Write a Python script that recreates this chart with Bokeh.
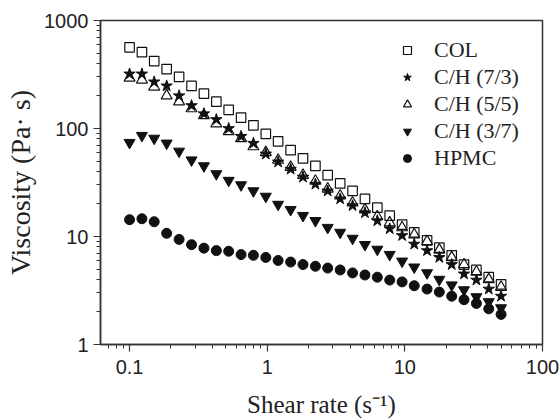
from bokeh.plotting import figure
from bokeh.models import Legend, LegendItem, CustomJSTickFormatter, Range1d
from bokeh.embed import file_html
from bokeh.resources import INLINE

# Shear rate (s^-1)
shear_rate = [0.1, 0.123, 0.151, 0.186, 0.229, 0.282, 0.347, 0.427, 0.525, 0.646,
              0.794, 0.977, 1.2, 1.48, 1.82, 2.24, 2.75, 3.39, 4.17, 5.13,
              6.31, 7.76, 9.55, 11.7, 14.5, 17.8, 21.9, 26.9, 33.1, 40.7, 50.0]

col = [565, 509, 421, 355, 300, 248, 210, 177, 149, 126,
       107, 89, 76, 63, 53, 45, 37, 31, 26.4, 22.3,
       18.5, 15.6, 12.9, 10.9, 9.2, 7.9, 6.7, 5.5, 4.9, 4.2, 3.6]
ch73 = [320, 320, 270, 248, 201, 163, 137, 121, 100, 84.5,
        73, 58, 49, 42, 35.5, 30.5, 26.4, 22.3, 19.3, 16.6,
        14, 11.8, 10.2, 8.5, 7.4, 6.4, 5.5, 4.5, 3.95, 3.26, 2.8]
ch55 = [294, 282, 243, 201, 177, 153, 132, 111, 94, 81,
        68, 60, 51, 43.9, 37, 32.6, 27.6, 23.8, 20.5, 17.7,
        15.3, 13.4, 12.1, 10.4, 9.0, 7.5, 6.4, 5.5, 4.7, 4.0, 3.4]
ch37 = [74, 86, 81, 73, 61.5, 51, 45, 38, 33, 30,
        26.4, 23.5, 19.8, 17.7, 15.6, 14, 12.1, 10.9, 9.6, 8.4,
        7.6, 6.8, 5.9, 5.2, 4.6, 4.0, 3.55, 3.2, 2.76, 2.48, 2.18]
hpmc = [14.3, 14.6, 13.7, 10.7, 9.4, 8.4, 7.8, 7.4, 7.3, 6.8,
        6.7, 6.4, 6.0, 5.8, 5.5, 5.3, 5.1, 4.9, 4.6, 4.4,
        4.2, 3.95, 3.8, 3.5, 3.26, 3.06, 2.8, 2.6, 2.4, 2.14, 1.9]

labels = ["COL", "C/H (7/3)", "C/H (5/5)", "C/H (3/7)", "HPMC"]

p = figure(width=560, height=420, x_axis_type="log", y_axis_type="log",
           x_range=Range1d(0.0615, 100), y_range=Range1d(1, 1000),
           output_backend="svg", toolbar_location=None,
           min_border_left=100, min_border_right=18, min_border_top=20,
           min_border_bottom=72)

p.xgrid.visible = False
p.ygrid.visible = False
p.outline_line_color = "#333333"
p.outline_line_width = 1.5

ink = "#111111"
r1 = p.scatter(shear_rate, col, marker="square", size=9.5, fill_color=None,
               line_color=ink, line_width=1.2)
r2 = p.scatter(shear_rate, ch73, marker="star", size=12, fill_color=ink,
               line_color=ink)
r3 = p.scatter(shear_rate, ch55, marker="triangle", size=11, fill_color=None,
               line_color=ink, line_width=1.2)
r4 = p.scatter(shear_rate, ch37, marker="inverted_triangle", size=11,
               fill_color=ink, line_color=ink)
r5 = p.scatter(shear_rate, hpmc, marker="circle", size=10, fill_color=ink,
               line_color=ink)

fmt = "return String(parseFloat(tick.toPrecision(4)));"
for ax in (p.xaxis[0], p.yaxis[0]):
    ax.axis_line_width = 1.5
    ax.axis_line_color = "#333333"
    ax.major_tick_in = 0
    ax.major_tick_out = 7
    ax.minor_tick_in = 0
    ax.minor_tick_out = 4
    ax.major_tick_line_width = 1.2
    ax.major_tick_line_color = "#333333"
    ax.minor_tick_line_color = "#333333"
    ax.major_label_text_font = "Liberation Sans"
    ax.major_label_text_font_size = "20px"
    ax.major_label_text_color = "#222222"
    ax.axis_label_text_font = "Liberation Serif"
    ax.axis_label_text_font_style = "normal"
    ax.axis_label_text_color = "#222222"
    ax.formatter = CustomJSTickFormatter(code=fmt)

p.xaxis.axis_label = "Shear rate (s\u207b\u00b9)"
p.yaxis.axis_label = "Viscosity (Pa\u00b7 s)"
p.xaxis.major_label_standoff = 8
p.yaxis.major_label_standoff = 5
p.xaxis.axis_label_text_font_size = "25px"
p.yaxis.axis_label_text_font_size = "28px"
p.xaxis.axis_label_standoff = 14
p.yaxis.axis_label_standoff = 5

legend = Legend(items=[LegendItem(label=l, renderers=[r])
                       for l, r in zip(labels, [r1, r2, r3, r4, r5])],
                location=(297, 173), label_text_font="Liberation Serif",
                label_text_font_size="22px", label_text_color="#222222",
                glyph_width=20, glyph_height=20, label_height=20,
                spacing=1, padding=0, margin=0, label_standoff=17,
                border_line_alpha=0, background_fill_alpha=0)
p.add_layout(legend)

open("out.html", "w").write(file_html(p, INLINE))
